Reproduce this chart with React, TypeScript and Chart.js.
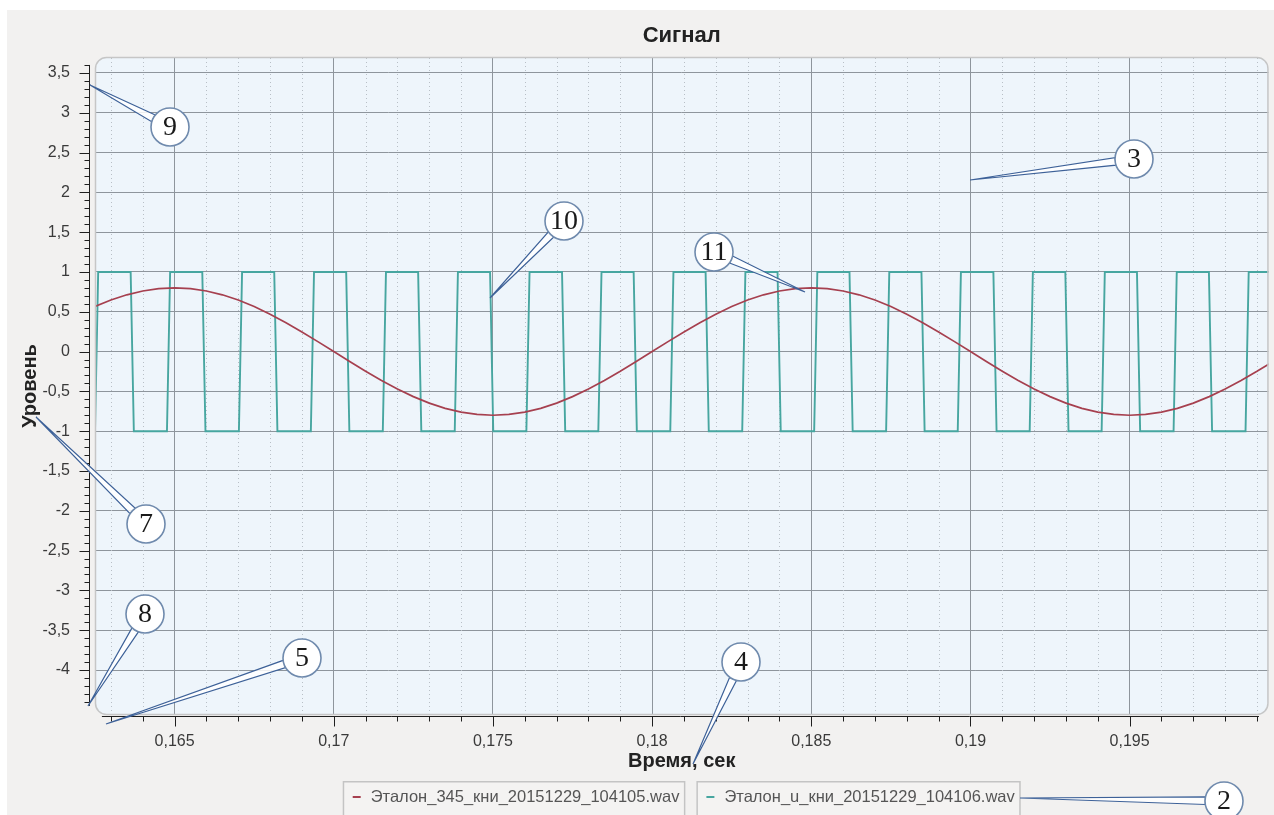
import React, { useEffect, useRef } from 'react';
import { Chart, registerables } from 'chart.js';

Chart.register(...registerables);

// ---------- texts ----------
const chartTitle = 'Сигнал';
const xAxisTitle = 'Время, сек';
const yAxisTitle = 'Уровень';
const seriesLabels = ['Эталон_345_кни_20151229_104105.wav', 'Эталон_u_кни_20151229_104106.wav'];

// ---------- axes ----------
const X_MIN = 0.1625;
const X_MAX = 0.19936;
const Y_MIN = -4.565;
const Y_MAX = 3.7;
const xMajorTicks = [0.165, 0.17, 0.175, 0.18, 0.185, 0.19, 0.195];
const yMajorTicks = [3.5, 3, 2.5, 2, 1.5, 1, 0.5, 0, -0.5, -1, -1.5, -2, -2.5, -3, -3.5, -4];

// ---------- series 1: reference sine (red) ----------
const sineTime = [
  0.1625, 0.163, 0.1635, 0.164, 0.1645, 0.165, 0.1655, 0.166, 0.1665, 0.167,
  0.1675, 0.168, 0.1685, 0.169, 0.1695, 0.17, 0.1705, 0.171, 0.1715, 0.172,
  0.1725, 0.173, 0.1735, 0.174, 0.1745, 0.175, 0.1755, 0.176, 0.1765, 0.177,
  0.1775, 0.178, 0.1785, 0.179, 0.1795, 0.18, 0.1805, 0.181, 0.1815, 0.182,
  0.1825, 0.183, 0.1835, 0.184, 0.1845, 0.185, 0.1855, 0.186, 0.1865, 0.187,
  0.1875, 0.188, 0.1885, 0.189, 0.1895, 0.19, 0.1905, 0.191, 0.1915, 0.192,
  0.1925, 0.193, 0.1935, 0.194, 0.1945, 0.195, 0.1955, 0.196, 0.1965, 0.197,
  0.1975, 0.198, 0.1985, 0.199, 0.1995,
];
const sineLevel = [
  0.566, 0.647, 0.713, 0.761, 0.79,
  0.8, 0.79, 0.761, 0.713, 0.647, 0.566, 0.47, 0.363, 0.247, 0.125,
  0.0, -0.125, -0.247, -0.363, -0.47, -0.566, -0.647, -0.713, -0.761, -0.79,
  -0.8, -0.79, -0.761, -0.713, -0.647, -0.566, -0.47, -0.363, -0.247, -0.125,
  0.0, 0.125, 0.247, 0.363, 0.47, 0.566, 0.647, 0.713, 0.761, 0.79,
  0.8, 0.79, 0.761, 0.713, 0.647, 0.566, 0.47, 0.363, 0.247, 0.125,
  0.0, -0.125, -0.247, -0.363, -0.47, -0.566, -0.647, -0.713, -0.761, -0.79,
  -0.8, -0.79, -0.761, -0.713, -0.647, -0.566, -0.47, -0.363, -0.247, -0.125,
];

// ---------- series 2: square wave (teal) ----------
const squareTime = [
  0.1625, 0.1626,
  0.16362, 0.16372, 0.16476, 0.16486,
  0.16587, 0.16597, 0.16702, 0.16712,
  0.16813, 0.16823, 0.16928, 0.16938,
  0.17039, 0.17049, 0.17154, 0.17164,
  0.17265, 0.17275, 0.1738, 0.1739,
  0.17491, 0.17501, 0.17605, 0.17615,
  0.17717, 0.17727, 0.17831, 0.17841,
  0.17942, 0.17952, 0.18057, 0.18067,
  0.18168, 0.18178, 0.18283, 0.18293,
  0.18394, 0.18404, 0.18509, 0.18519,
  0.1862, 0.1863, 0.18735, 0.18745,
  0.18846, 0.18856, 0.1896, 0.1897,
  0.19072, 0.19082, 0.19186, 0.19196,
  0.19298, 0.19308, 0.19412, 0.19422,
  0.19523, 0.19533, 0.19638, 0.19648,
  0.19749, 0.19759, 0.19864, 0.19874,
  0.1995,
];
const squareLevel = [
  -1, 1,
  1, -1, -1, 1,
  1, -1, -1, 1,
  1, -1, -1, 1,
  1, -1, -1, 1,
  1, -1, -1, 1,
  1, -1, -1, 1,
  1, -1, -1, 1,
  1, -1, -1, 1,
  1, -1, -1, 1,
  1, -1, -1, 1,
  1, -1, -1, 1,
  1, -1, -1, 1,
  1, -1, -1, 1,
  1, -1, -1, 1,
  1, -1, -1, 1,
  1, -1, -1, 1,
  1,
];

// ---------- annotation callouts (page pixel positions) ----------
const PAGE_X = 7;
const PAGE_Y = 10;
const callouts = [
  { n: '9', cx: 170, cy: 127, tx: 90, ty: 85 },
  { n: '3', cx: 1134, cy: 159, tx: 970, ty: 180 },
  { n: '10', cx: 564, cy: 221, tx: 490, ty: 298 },
  { n: '11', cx: 714, cy: 252, tx: 805, ty: 292 },
  { n: '7', cx: 146, cy: 524, tx: 36, ty: 417 },
  { n: '8', cx: 145, cy: 614, tx: 88, ty: 706 },
  { n: '5', cx: 302, cy: 658, tx: 106, ty: 724 },
  { n: '4', cx: 741, cy: 662, tx: 693, ty: 764 },
  { n: '2', cx: 1224, cy: 801, tx: 1020, ty: 798 },
];

// ---------- styles ----------
const FONT = '"Liberation Sans", Arial, sans-serif';
const PAGE_BG = '#f2f1f0';
const PLOT_BG = '#eef5fb';
const MAJOR_GRID = '#8e959c';
const MINOR_GRID = '#b8bfc6';
const RED = '#a6404f';
const TEAL = '#47a6a0';

const isMajorX = (v: number) => Math.round(v * 1000) % 5 === 0;
const isMajorY = (v: number) => Math.round(v * 10) % 5 === 0;
const fmt = (v: number) => String(v).replace('.', ',');

function roundRectPath(ctx: CanvasRenderingContext2D, x: number, y: number, w: number, h: number, r: number) {
  ctx.beginPath();
  ctx.moveTo(x + r, y);
  ctx.lineTo(x + w - r, y);
  ctx.arcTo(x + w, y, x + w, y + r, r);
  ctx.lineTo(x + w, y + h - r);
  ctx.arcTo(x + w, y + h, x + w - r, y + h, r);
  ctx.lineTo(x + r, y + h);
  ctx.arcTo(x, y + h, x, y + h - r, r);
  ctx.lineTo(x, y + r);
  ctx.arcTo(x, y, x + r, y, r);
  ctx.closePath();
}

const decorPlugin = {
  id: 'decor',
  beforeDraw(chart: any) {
    const { ctx, chartArea: a } = chart;
    ctx.save();
    roundRectPath(ctx, a.left, a.top, a.right - a.left, a.bottom - a.top, 11);
    ctx.fillStyle = PLOT_BG;
    ctx.fill();
    ctx.restore();
  },
  beforeDatasetsDraw(chart: any) {
    const { ctx, chartArea: a } = chart;
    const xs = chart.scales.x;
    ctx.save();
    ctx.strokeStyle = MINOR_GRID;
    ctx.lineWidth = 1;
    ctx.setLineDash([1, 3]);
    xs.ticks.forEach((t: any) => {
      if (isMajorX(t.value)) return;
      const px = Math.round(xs.getPixelForValue(t.value)) + 0.5;
      ctx.beginPath();
      ctx.moveTo(px, a.top + 1);
      ctx.lineTo(px, a.bottom - 1);
      ctx.stroke();
    });
    ctx.restore();
  },
  afterDatasetsDraw(chart: any) {
    const { ctx, chartArea: a } = chart;
    ctx.save();
    roundRectPath(ctx, a.left + 0.5, a.top + 0.5, a.right - a.left - 1, a.bottom - a.top - 1, 11);
    ctx.strokeStyle = '#c6c6c6';
    ctx.lineWidth = 1.5;
    ctx.stroke();
    ctx.restore();
  },
  afterDraw(chart: any) {
    const { ctx, chartArea: a } = chart;
    const xs = chart.scales.x;
    const ys = chart.scales.y;
    ctx.save();

    // axis backbones and ticks
    ctx.strokeStyle = '#1f1f1f';
    ctx.lineWidth = 1;
    const bx = a.left - 5.5;
    const yTop = ys.getPixelForValue(ys.ticks[ys.ticks.length - 1].value);
    const yBot = ys.getPixelForValue(ys.ticks[0].value) + 4;
    ctx.beginPath();
    ctx.moveTo(bx, yTop);
    ctx.lineTo(bx, yBot);
    ys.ticks.forEach((t: any) => {
      const py = Math.round(ys.getPixelForValue(t.value)) + 0.5;
      const len = isMajorY(t.value) ? 10 : 5;
      ctx.moveTo(bx, py);
      ctx.lineTo(bx - len, py);
    });
    const by = a.bottom + 1.5;
    const xFirst = xs.getPixelForValue(xs.ticks[0].value) - 9;
    const xLast = xs.getPixelForValue(xs.ticks[xs.ticks.length - 1].value) + 2;
    ctx.moveTo(xFirst, by);
    ctx.lineTo(xLast, by);
    xs.ticks.forEach((t: any) => {
      const px = Math.round(xs.getPixelForValue(t.value)) + 0.5;
      const len = isMajorX(t.value) ? 10 : 5;
      ctx.moveTo(px, by);
      ctx.lineTo(px, by + len);
    });
    ctx.stroke();

    // titles
    const cxArea = (a.left + a.right) / 2;
    const cyArea = (a.top + a.bottom) / 2;
    ctx.fillStyle = '#222';
    ctx.textAlign = 'center';
    ctx.textBaseline = 'middle';
    ctx.font = `bold 22px ${FONT}`;
    ctx.fillText(chartTitle, cxArea, 26);
    ctx.font = `bold 20px ${FONT}`;
    ctx.fillText(xAxisTitle, cxArea, a.bottom + 46);
    ctx.save();
    ctx.translate(23, cyArea);
    ctx.rotate(-Math.PI / 2);
    ctx.fillText(yAxisTitle, 0, 0);
    ctx.restore();

    // legend
    ctx.font = `16.5px ${FONT}`;
    const ds = chart.data.datasets;
    const widths = ds.map((d: any) => ctx.measureText(d.label).width + 34);
    const gap = 11;
    const total = widths.reduce((s: number, w: number) => s + w, 0) + gap * (ds.length - 1);
    let lx = cxArea - total / 2;
    const lTop = a.bottom + 66;
    const lMid = lTop + 16;
    ds.forEach((d: any, i: number) => {
      const w = widths[i];
      ctx.fillStyle = '#f4f3f2';
      ctx.fillRect(lx, lTop, w, 40);
      ctx.strokeStyle = '#c4c4c4';
      ctx.lineWidth = 1.5;
      ctx.strokeRect(lx + 0.75, lTop + 0.75, w - 1.5, 40);
      ctx.strokeStyle = d.borderColor;
      ctx.lineWidth = 2;
      ctx.beginPath();
      ctx.moveTo(lx + 10, lMid);
      ctx.lineTo(lx + 18, lMid);
      ctx.stroke();
      ctx.fillStyle = '#555';
      ctx.textAlign = 'left';
      ctx.textBaseline = 'middle';
      ctx.fillText(d.label, lx + 28, lMid);
      lx += w + gap;
    });

    // callouts
    callouts.forEach((c) => {
      const cx = c.cx - PAGE_X;
      const cy = c.cy - PAGE_Y;
      const tx = c.tx - PAGE_X;
      const ty = c.ty - PAGE_Y;
      const r = 19;
      const ang = Math.atan2(ty - cy, tx - cx);
      ctx.beginPath();
      ctx.moveTo(tx, ty);
      ctx.lineTo(cx + r * Math.cos(ang + 0.2), cy + r * Math.sin(ang + 0.2));
      ctx.lineTo(cx + r * Math.cos(ang - 0.2), cy + r * Math.sin(ang - 0.2));
      ctx.closePath();
      ctx.fillStyle = 'rgba(255,255,255,0.85)';
      ctx.fill();
      ctx.strokeStyle = '#3d6198';
      ctx.lineWidth = 1.2;
      ctx.stroke();
      ctx.beginPath();
      ctx.arc(cx, cy, r, 0, Math.PI * 2);
      ctx.fillStyle = '#ffffff';
      ctx.fill();
      ctx.strokeStyle = '#6f8aad';
      ctx.lineWidth = 1.6;
      ctx.stroke();
      ctx.fillStyle = '#1a1a1a';
      ctx.font = '28px "Liberation Serif", "DejaVu Serif", serif';
      ctx.textAlign = 'center';
      ctx.textBaseline = 'middle';
      ctx.fillText(c.n, cx, cy + 1);
    });

    ctx.restore();
  },
};

export default function App() {
  const ref = useRef<HTMLCanvasElement>(null);

  useEffect(() => {
    const canvas = ref.current;
    if (!canvas) return;
    const sinePoints = sineTime.map((t, i) => ({ x: t, y: sineLevel[i] }));
    const squarePoints = squareTime.map((t, i) => ({ x: t, y: squareLevel[i] }));

    const xTickValues: number[] = [];
    for (let i = 163; i <= 199; i++) xTickValues.push(i / 1000);
    const yTickValues: number[] = [];
    for (let i = -44; i <= 36; i++) yTickValues.push(i / 10);

    const chart = new Chart(canvas, {
      type: 'line',
      data: {
        datasets: [
          {
            label: seriesLabels[0],
            data: sinePoints,
            borderColor: RED,
            backgroundColor: RED,
            borderWidth: 1.7,
            pointRadius: 0,
            fill: false,
            tension: 0,
          },
          {
            label: seriesLabels[1],
            data: squarePoints,
            borderColor: TEAL,
            backgroundColor: TEAL,
            borderWidth: 1.9,
            pointRadius: 0,
            fill: false,
            tension: 0,
          },
        ],
      },
      options: {
        animation: false,
        responsive: false,
        events: [],
        layout: { padding: { top: 47, right: 2, left: 0, bottom: 0 } },
        plugins: {
          legend: { display: false },
          title: { display: false },
          tooltip: { enabled: false },
        },
        scales: {
          x: {
            type: 'linear',
            min: X_MIN,
            max: X_MAX,
            afterBuildTicks: (s: any) => {
              s.ticks = xTickValues.map((v) => ({ value: v }));
            },
            afterFit: (s: any) => {
              s.height = 100;
            },
            ticks: {
              autoSkip: false,
              maxRotation: 0,
              minRotation: 0,
              padding: 17,
              color: '#3a3a3a',
              font: { family: FONT, size: 16 },
              callback: (v: any) => (xMajorTicks.some((m) => Math.abs(m - v) < 1e-9) ? fmt(v) : ''),
            },
            grid: {
              drawTicks: false,
              lineWidth: 1,
              color: (ctx: any) => (ctx.tick && isMajorX(ctx.tick.value) ? MAJOR_GRID : 'rgba(0,0,0,0)'),
            },
            border: { display: false },
          },
          y: {
            type: 'linear',
            min: Y_MIN,
            max: Y_MAX,
            afterBuildTicks: (s: any) => {
              s.ticks = yTickValues.map((v) => ({ value: v }));
            },
            afterFit: (s: any) => {
              s.width = 88;
            },
            ticks: {
              autoSkip: false,
              padding: 25,
              color: '#3a3a3a',
              font: { family: FONT, size: 16 },
              callback: (v: any) => (yMajorTicks.some((m) => Math.abs(m - v) < 1e-9) ? fmt(Math.round(v * 10) / 10) : ''),
            },
            grid: {
              drawTicks: false,
              lineWidth: 1,
              color: (ctx: any) => (ctx.tick && isMajorY(ctx.tick.value) ? MAJOR_GRID : 'rgba(0,0,0,0)'),
            },
            border: { display: false },
          },
        },
      },
      plugins: [decorPlugin],
    } as any);

    return () => chart.destroy();
  }, []);

  return (
    <div
      style={{
        position: 'fixed',
        left: PAGE_X,
        top: PAGE_Y,
        width: 1267,
        height: 805,
        background: PAGE_BG,
        overflow: 'hidden',
      }}
    >
      <canvas ref={ref} width={1267} height={805} style={{ display: 'block', width: 1267, height: 805 }} />
    </div>
  );
}
